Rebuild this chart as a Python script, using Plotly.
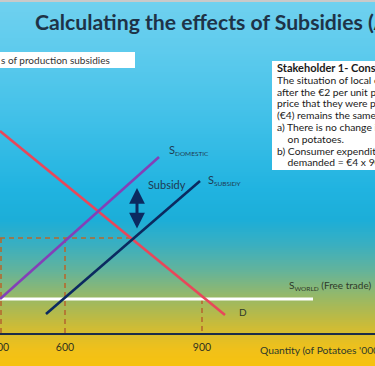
import plotly.graph_objects as go

# ---------------- data (diagram units: x to the right, y = height above the quantity axis) -------------
demand_x = [0, 225]
demand_y = [202, 18]
s_domestic_x = [0, 159]
s_domestic_y = [34, 176]
s_subsidy_x = [46, 200]
s_subsidy_y = [19, 152]
s_world_x = [0, 313]
s_world_y = [34, 34]

price_dash_x = [0, 133]
price_dash_y = [95, 95]
q_dash_left_x = [1, 1]
q_dash_left_y = [95, 0]
q_dash_mid_x = [65, 65]
q_dash_mid_y = [95, 0]
q_dash_right_x = [202, 202]
q_dash_right_y = [34, 0]

subsidy_arrow_x = 137
subsidy_arrow_top = 145
subsidy_arrow_bottom = 103

qty_tick_pos = [0, 65, 202]
qty_tick_labels = ["300", "600", "900"]

title_text = "Calculating the effects of Subsidies (A)"
left_box_text = "s of production subsidies"
stakeholder_lines = [
    "<b>Stakeholder 1- Consumers</b>",
    "The situation of local consumers is unchanged",
    "after the €2 per unit production subsidy. The",
    "price that they were paying before the subsidy",
    "(€4) remains the same. Therefore:",
    "a) There is no change in consumer expenditure",
    "    on potatoes.",
    "b) Consumer expenditure = Price x Quantity",
    "    demanded = €4 x 900,000 = €3.6m",
]

# ---------------- styling ----------------
W, H = 375, 366
AX_PX = 333  # pixel row of the quantity axis
FONT = "Lato"
NAVY = "#0b2a60"
RED = "#e8475a"
PURPLE = "#8340b8"
DASH = "#b5692e"
TEXT_DARK = "#1f3a52"

grad_stops = [
    (0, (0x70, 0xd1, 0xef)),
    (50, (0x5e, 0xcb, 0xed)),
    (120, (0x40, 0xc0, 0xe8)),
    (190, (0x20, 0xb3, 0xe0)),
    (220, (0x1c, 0xae, 0xd8)),
    (245, (0x3a, 0xaf, 0xc0)),
    (270, (0x62, 0xb3, 0x9c)),
    (295, (0x94, 0xb8, 0x6a)),
    (318, (0xbc, 0xba, 0x44)),
    (338, (0xe2, 0xbe, 0x26)),
    (352, (0xf2, 0xc1, 0x18)),
    (366, (0xf6, 0xc2, 0x0e)),
]


def grad_color(py):
    for (p0, c0), (p1, c1) in zip(grad_stops[:-1], grad_stops[1:]):
        if p0 <= py <= p1:
            t = (py - p0) / (p1 - p0)
            c = [round(a + (b - a) * t) for a, b in zip(c0, c1)]
            return "rgb(%d,%d,%d)" % tuple(c)
    return "rgb(%d,%d,%d)" % grad_stops[-1][1]


def py2paper(py):
    return (AX_PX - py) / AX_PX


shapes = []
step = 2
for py in range(0, H, step):
    shapes.append(dict(type="rect", xref="paper", yref="paper", x0=-0.01, x1=1.01,
                       y0=py2paper(py + step + 0.5), y1=py2paper(py),
                       fillcolor=grad_color(py + step / 2), line=dict(width=0), layer="below"))
# thin grey top border
shapes.append(dict(type="line", xref="paper", yref="paper", x0=0, x1=1,
                   y0=py2paper(1), y1=py2paper(1), line=dict(color="#c9c9c9", width=2), layer="below"))
# white boxes
shapes.append(dict(type="rect", xref="paper", yref="paper", x0=-0.01, x1=135 / W,
                   y0=py2paper(68), y1=py2paper(52), fillcolor="white", line=dict(width=0), layer="below"))
shapes.append(dict(type="rect", xref="paper", yref="paper", x0=272 / W, x1=1.02,
                   y0=py2paper(170), y1=py2paper(61), fillcolor="white", line=dict(width=0), layer="below"))

fig = go.Figure()


def add_line(x, y, color, width, dash="solid"):
    fig.add_trace(go.Scatter(x=x, y=y, mode="lines", line=dict(color=color, width=width, dash=dash),
                             hoverinfo="skip", showlegend=False, cliponaxis=False))


dash_pattern = "5px,4px"
add_line(price_dash_x, price_dash_y, DASH, 1.6, dash_pattern)
add_line(q_dash_left_x, q_dash_left_y, DASH, 1.6, dash_pattern)
add_line(q_dash_mid_x, q_dash_mid_y, DASH, 1.6, dash_pattern)
add_line(q_dash_right_x, q_dash_right_y, DASH, 1.6, dash_pattern)
add_line(s_world_x, s_world_y, "white", 3.2)
add_line(demand_x, demand_y, RED, 2.6)
add_line(s_domestic_x, s_domestic_y, PURPLE, 2.6)
add_line(s_subsidy_x, s_subsidy_y, NAVY, 2.6)

annotations = []
# title
annotations.append(dict(text="<b>" + title_text + "</b>", xref="paper", yref="paper", x=33 / W, y=py2paper(22),
                        xanchor="left", yanchor="middle", showarrow=False,
                        font=dict(family=FONT, size=21.2, color="#1e3347")))
annotations.append(dict(text=left_box_text, xref="paper", yref="paper", x=-1 / W, y=py2paper(60),
                        xanchor="left", yanchor="middle", showarrow=False,
                        font=dict(family=FONT, size=10, color="#333333")))
line_h = 11.8
for i, ln in enumerate(stakeholder_lines):
    annotations.append(dict(text=ln, xref="paper", yref="paper", x=275 / W, y=py2paper(68 + i * line_h),
                            xanchor="left", yanchor="middle", showarrow=False,
                            font=dict(family=FONT, size=11 if i == 0 else 10.3, color="#1a1a1a")))

small = "<span style='font-size:6.5px'>%s</span>"
annotations.append(dict(text="S" + "<sub>" + small % "DOMESTIC" + "</sub>", x=167, y=AX_PX - 150, xanchor="left",
                        yanchor="middle", showarrow=False, font=dict(family=FONT, size=11, color=TEXT_DARK)))
annotations.append(dict(text="S" + "<sub>" + small % "SUBSIDY" + "</sub>", x=206, y=AX_PX - 180, xanchor="left",
                        yanchor="middle", showarrow=False, font=dict(family=FONT, size=11, color=TEXT_DARK)))
annotations.append(dict(text="Subsidy", x=146, y=AX_PX - 184, xanchor="left", yanchor="middle", showarrow=False,
                        font=dict(family=FONT, size=11, color=TEXT_DARK)))
annotations.append(dict(text="D", x=237, y=AX_PX - 312, xanchor="left", yanchor="middle", showarrow=False,
                        font=dict(family=FONT, size=10, color="#2e3a2a")))
annotations.append(dict(text="S" + "<sub>" + small % "WORLD" + "</sub>" + " (Free trade)", x=287, y=AX_PX - 285,
                        xanchor="left", yanchor="middle", showarrow=False,
                        font=dict(family=FONT, size=10, color="#2e3a2a")))
annotations.append(dict(text="Quantity (of Potatoes '000s)", xref="paper", yref="paper", x=258 / W,
                        y=py2paper(350), xanchor="left", yanchor="middle", showarrow=False,
                        font=dict(family=FONT, size=10.3, color="#2e3a2a")))
# subsidy double arrow
annotations.append(dict(text="", x=subsidy_arrow_x, y=subsidy_arrow_top, ax=subsidy_arrow_x,
                        ay=subsidy_arrow_bottom, axref="x", ayref="y", showarrow=True, arrowside="end+start",
                        arrowhead=2, startarrowhead=2, arrowsize=1.05, startarrowsize=1.05, arrowwidth=3,
                        arrowcolor=NAVY))

fig.update_layout(
    width=W, height=H,
    margin=dict(l=0, r=0, t=0, b=H - AX_PX, pad=0, autoexpand=False),
    paper_bgcolor="#f5c20f",
    plot_bgcolor="rgba(0,0,0,0)",
    shapes=shapes,
    annotations=annotations,
    xaxis=dict(range=[0, W], showgrid=False, zeroline=False, showline=True, linecolor="#1c2c48", linewidth=2,
               tickmode="array", tickvals=qty_tick_pos, ticktext=qty_tick_labels, ticks="",
               tickfont=dict(family=FONT, size=10.5, color="#33331f"), ticklabelstandoff=3,
               ticklabeloverflow="allow", fixedrange=True, automargin=False),
    yaxis=dict(range=[0, AX_PX], visible=False, fixedrange=True, automargin=False),
    showlegend=False,
)

fig.write_html("out.html", config={"displayModeBar": False},
               post_script="document.body.style.margin='0';document.body.style.overflow='hidden';")
